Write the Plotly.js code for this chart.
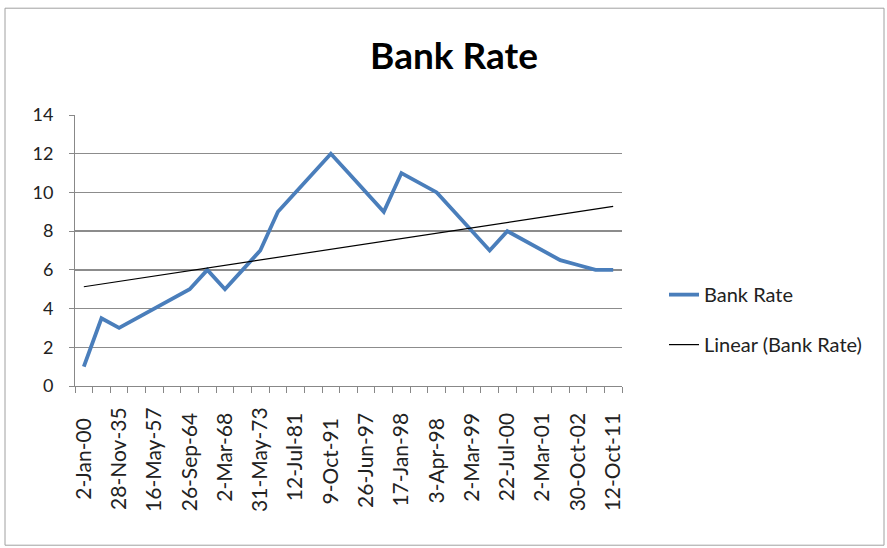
<!DOCTYPE html>
<html>
<head>
<meta charset="utf-8">
<script src="https://cdn.plot.ly/plotly-3.0.1.min.js"></script>
<style>body{margin:0;padding:0;background:#fff;}#chart{width:887px;height:548px;}</style>
</head>
<body>
<div id="chart"></div>
<script>
const categories = [
  "2-Jan-00", "4-Jul-35", "28-Nov-35", "15-Nov-51", "16-May-57", "3-Jan-63",
  "26-Sep-64", "17-Feb-65", "2-Mar-68", "9-Jan-71", "31-May-73", "23-Jul-74",
  "12-Jul-81", "4-Jul-91", "9-Oct-91", "16-Apr-97", "26-Jun-97", "22-Oct-97",
  "17-Jan-98", "19-Mar-98", "3-Apr-98", "29-Apr-98", "2-Mar-99", "2-Apr-00",
  "22-Jul-00", "17-Feb-01", "2-Mar-01", "23-Oct-01", "30-Oct-02", "29-Apr-03",
  "12-Oct-11"
];
const bankRate = [
  1, 3.5, 3, 3.5, 4, 4.5,
  5, 6, 5, 6, 7, 9,
  10, 11, 12, 11, 10, 9,
  11, 10.5, 10, 9, 8, 7,
  8, 7.5, 7, 6.5, 6.25, 6,
  6
];
const yTicks = [0, 2, 4, 6, 8, 10, 12, 14];

// Linear trendline (least squares over category index), as Excel does
const n = bankRate.length;
const idx = bankRate.map((_, i) => i + 1);
const mx = idx.reduce((a, b) => a + b, 0) / n;
const my = bankRate.reduce((a, b) => a + b, 0) / n;
let sxy = 0, sxx = 0;
for (let i = 0; i < n; i++) { sxy += (idx[i] - mx) * (bankRate[i] - my); sxx += (idx[i] - mx) ** 2; }
const slope = sxy / sxx, intercept = my - slope * mx;
const trend = idx.map(x => intercept + slope * x);

const FONT = "Lato, 'Open Sans', sans-serif";
const XFS = 21;

// centre the rotated labels (Excel style) by padding with no-break spaces
const cv = document.createElement("canvas").getContext("2d");
cv.font = XFS + "px Lato";
const shown = categories.map((c, i) => (i % 2 === 0 ? c : ""));
const widths = shown.map(t => cv.measureText(t).width);
const maxW = Math.max(...widths);
const spW = cv.measureText("\u00A0").width || XFS * 0.2;
const tickText = shown.map((t, i) => t === "" ? "" : t + "\u00A0".repeat(Math.max(0, Math.round((maxW - widths[i]) / 2 / spW))));

const traces = [
  {
    x: categories, y: bankRate, type: "scatter", mode: "lines", name: "Bank Rate",
    line: {color: "#4a7ebb", width: 3.8}, legendgroup: "a"
  },
  {
    x: categories, y: trend, type: "scatter", mode: "lines", name: "Linear (Bank Rate)",
    line: {color: "#000000", width: 1.2}, legendgroup: "b"
  }
];

const layout = {
  width: 887, height: 548,
  paper_bgcolor: "#ffffff", plot_bgcolor: "#ffffff",
  margin: {l: 75, r: 265, t: 115, b: 161.5, pad: 0},
  title: {
    text: "<b>Bank Rate</b>", font: {family: FONT, size: 37, color: "#000"},
    x: 454 / 887, xanchor: "center", xref: "container",
    y: 1 - 56 / 548, yanchor: "middle", yref: "container"
  },
  font: {family: FONT, size: 13, color: "#222"},
  xaxis: {
    type: "category", tickmode: "array", tickvals: categories, ticktext: tickText,
    tickangle: -90, tickson: "boundaries", ticks: "outside", ticklen: 6,
    tickcolor: "#888", showgrid: false, showline: true, linecolor: "#888", linewidth: 1,
    tickfont: {family: FONT, size: XFS, color: "#222"}, range: [-0.5, 30.5],
    ticklabelstandoff: 12, zeroline: false
  },
  yaxis: {
    range: [0, 14], tickvals: yTicks, ticks: "outside", ticklen: 5, tickcolor: "#888",
    showgrid: true, gridcolor: "#8c8c8c", gridwidth: 1.3, showline: true,
    linecolor: "#888", linewidth: 1, zeroline: false,
    tickfont: {family: FONT, size: 18, color: "#222"}, ticklabelstandoff: 12
  },
  showlegend: true,
  legend: {
    x: (664 - 75) / 547, xanchor: "left", y: (386.5 - 320) / 271.5, yanchor: "middle",
    font: {family: FONT, size: 20, color: "#222"},
    traceorder: "grouped", tracegroupgap: 21, bgcolor: "rgba(0,0,0,0)"
  },
  shapes: [
    {type: "rect", xref: "paper", yref: "paper",
     x0: (5 - 75) / 547, x1: (884 - 75) / 547,
     y0: (386.5 - 546) / 271.5, y1: (386.5 - 8) / 271.5,
     line: {color: "#a0a0a0", width: 1}, fillcolor: "rgba(0,0,0,0)", layer: "below"}
  ]
};

Plotly.newPlot("chart", traces, layout, {displayModeBar: false, staticPlot: true});
</script>
</body>
</html>
